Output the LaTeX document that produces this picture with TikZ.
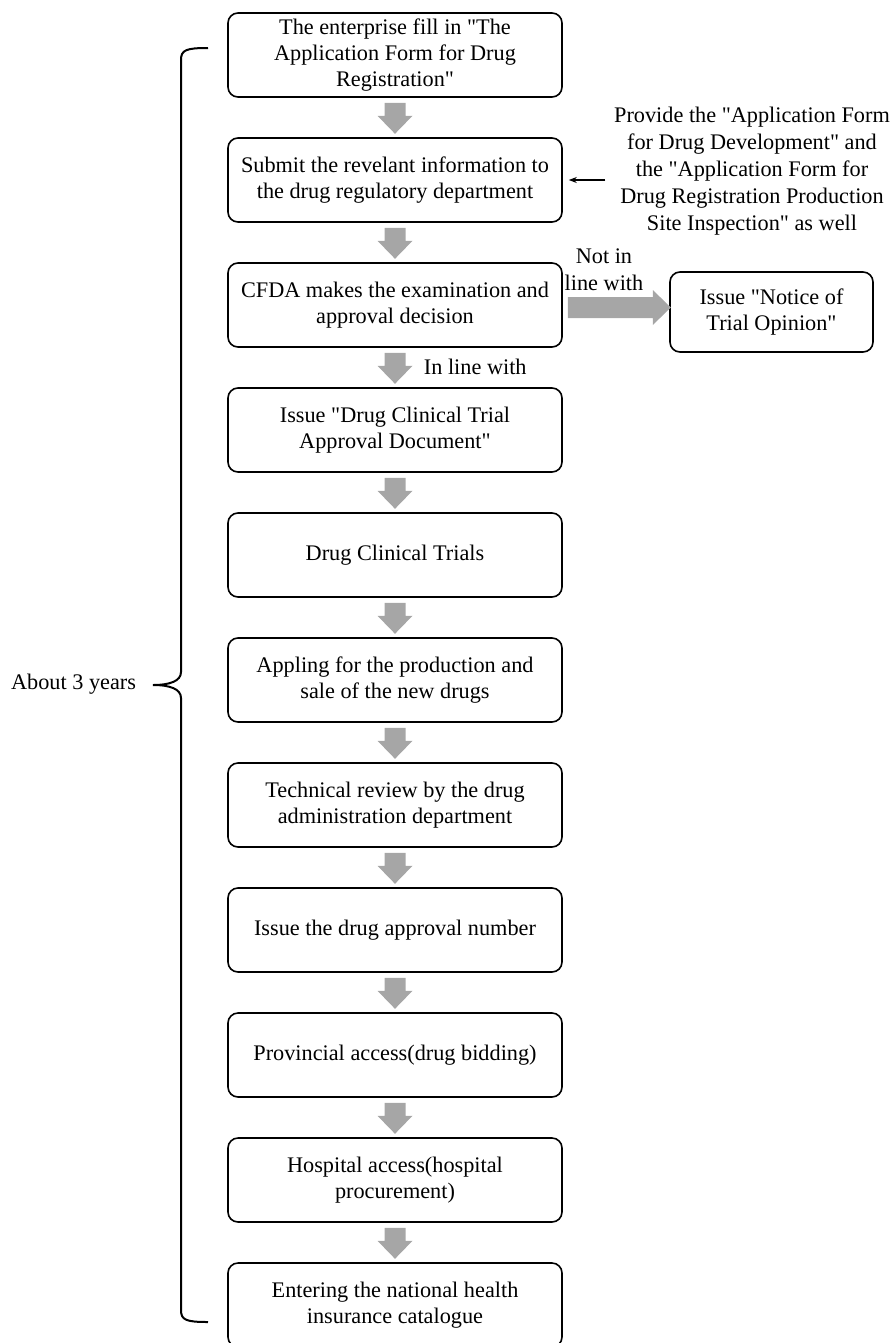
\documentclass[tikz,border=0pt]{standalone}
\usepackage{fontspec}
\setmainfont{Liberation Serif}[Ligatures=TeXOff]
\usetikzlibrary{arrows.meta}
\definecolor{flowgray}{HTML}{A6A6A6}

% gray block arrows below / beside a box
\newcommand{\flowdown}[1]{\fill[flowgray] (#1.south) ++(-10.5,5) -- ++(21,0) -- ++(0,13) -- ++(7,0) -- ++(-17.5,18) -- ++(-17.5,-18) -- ++(7,0) -- cycle;}

\tikzset{
  stepbox/.style={draw, line width=1.2pt, rounded corners=7.5pt, minimum width=250.5pt, minimum height=63pt, align=center, inner sep=2pt, font=\fontsize{16.7}{19.5}\selectfont},
  plaintext/.style={align=center, inner sep=2pt, font=\fontsize{16.7}{20}\selectfont}
}

\begin{document}
\begin{tikzpicture}[x=0.75pt,y=-0.75pt]
  \useasboundingbox (0,0) rectangle (892,1343);

  \node[stepbox] (b1) at (395,55) {The enterprise fill in "The\\ Application Form for Drug\\ Registration"};
  \node[stepbox] (b2) at (395,180) {Submit the revelant information to\\ the drug regulatory department};
  \node[stepbox] (b3) at (395,305) {CFDA makes the examination and\\ approval decision};
  \node[stepbox] (b4) at (395,430) {Issue "Drug Clinical Trial\\ Approval Document"};
  \node[stepbox] (b5) at (395,555) {Drug Clinical Trials};
  \node[stepbox] (b6) at (395,680) {Appling for the production and\\ sale of the new drugs};
  \node[stepbox] (b7) at (395,805) {Technical review by the drug\\ administration department};
  \node[stepbox] (b8) at (395,930) {Issue the drug approval number};
  \node[stepbox] (b9) at (395,1055) {Provincial access(drug bidding)};
  \node[stepbox] (b10) at (395,1180) {Hospital access(hospital\\ procurement)};
  \node[stepbox] (b11) at (395,1305) {Entering the national health\\ insurance catalogue};

  \node[stepbox, minimum width=152.25pt, minimum height=60pt] (notice) at (771.5,312) {Issue "Notice of\\ Trial Opinion"};

  \foreach \i in {1,...,10}{
    \flowdown{b\i}
  }
  \fill[flowgray] (b3.east) ++(5,-8) -- ++(85,0) -- ++(0,-7) -- ++(18,17.5) -- ++(-18,17.5) -- ++(0,-7) -- ++(-85,0) -- cycle;

  \node[plaintext] (notin) at (604,270) {Not in\\ line with};
  \node[plaintext, anchor=west] (inline) at (421,367) {In line with};

  \node[plaintext, font=\fontsize{16.7}{20.25}\selectfont] (forms) at (752,171) {Provide the "Application Form\\ for Drug Development" and\\ the "Application Form for\\ Drug Registration Production\\ Site Inspection" as well};
  \draw[line width=0.9pt, -{Stealth[length=6pt,width=4.5pt]}, shorten <=4.5pt, shorten >=4.5pt] (forms.west |- b2.east) -- (b2.east);

  % brace for the whole process
  \draw[line width=1.5pt] (208,48) .. controls (186,48) and (181,50) .. (181,60) -- (181,672) .. controls (181,681) and (170,685) .. (153,685) .. controls (170,685) and (181,689) .. (181,698) -- (181,1310) .. controls (181,1320) and (186,1322) .. (208,1322);
  \node[plaintext, anchor=east] (years) at (139,684) {About 3 years};
\end{tikzpicture}
\end{document}
